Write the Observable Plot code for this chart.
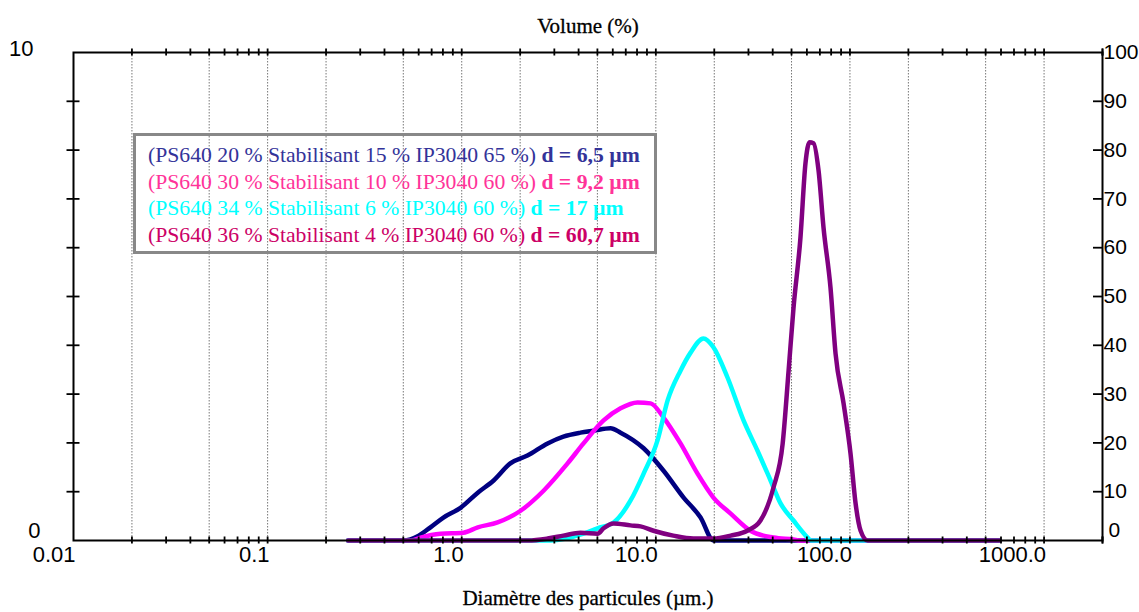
<!DOCTYPE html>
<html>
<head>
<meta charset="utf-8">
<script src="https://cdn.jsdelivr.net/npm/d3@7"></script>
<script src="https://cdn.jsdelivr.net/npm/@observablehq/plot@0.6"></script>
<style>
  body { margin: 0; background: #fff; }
  #wrap { position: relative; width: 1139px; height: 612px; }
  #legend {
    position: absolute; left: 133px; top: 133px; width: 524px; height: 121px;
    box-sizing: border-box; border: 3px solid #888; background: transparent;
    padding: 6px 0 0 12px; font-family: "Liberation Serif", "Times New Roman", serif;
    font-size: 21.7px; line-height: 26.6px; white-space: nowrap;
  }
  #legend b { font-weight: bold; }
</style>
</head>
<body>
<div id="wrap"></div>
<script>
// ---- Data (particle size in µm, volume in %) ----
const series = ["S1", "S2", "S3", "S4"];
const seriesColors = ["#000080", "#FF00FF", "#00FFFF", "#800080"];
const legendColors = ["#333399", "#FF3399", "#00FFFF", "#CC0066"];
const legendMain = [
  "(PS640 20 % Stabilisant 15 % IP3040 65 %) ",
  "(PS640 30 % Stabilisant 10 % IP3040 60 %) ",
  "(PS640 34 % Stabilisant 6 % IP3040 60 %) ",
  "(PS640 36 % Stabilisant 4 % IP3040 60 %) "
];
const legendBold = ["d = 6,5 µm", "d = 9,2 µm", "d = 17 µm", "d = 60,7 µm"];

const size1 = [0.26, 0.50, 0.60, 0.69, 0.805, 0.986, 1.21, 1.46, 1.78, 2.18, 2.77, 3.34, 4.09, 4.77, 5.84, 6.58, 8.65, 10.96, 13.9, 17.0, 19.8, 590];
const vol1  = [0, 0, 0.10, 0.27, 0.47, 0.67, 0.98, 1.23, 1.58, 1.74, 1.99, 2.13, 2.21, 2.25, 2.30, 2.21, 1.89, 1.43, 0.88, 0.47, 0, 0];

const size2 = [0.26, 0.55, 0.614, 0.778, 1.02, 1.21, 1.53, 2.01, 2.64, 3.51, 4.24, 5.38, 6.58, 8.05, 9.40, 10.96, 13.4, 16.4, 19.8, 24.3, 30.7, 40.4, 51.2, 55.6, 590];
const vol2  = [0, 0, 0.06, 0.14, 0.16, 0.27, 0.37, 0.61, 1.02, 1.58, 1.99, 2.46, 2.71, 2.83, 2.81, 2.52, 1.99, 1.37, 0.88, 0.55, 0.20, 0.06, 0.02, 0, 0];

const size3 = [0.26, 2.87, 4.24, 5.01, 6.06, 7.41, 8.65, 10.2, 11.5, 13.4, 15.1, 17.6, 19.8, 23.4, 28.3, 33.4, 39.0, 43.9, 51.2, 60.5, 62.7, 590];
const vol3  = [0, 0, 0.14, 0.25, 0.37, 0.82, 1.37, 2.05, 2.87, 3.48, 3.85, 4.14, 3.96, 3.34, 2.46, 1.84, 1.23, 0.76, 0.41, 0.06, 0, 0];

const size4 = [0.26, 2.2, 2.77, 3.34, 4.09, 5.01, 5.38, 6.06, 7.41, 8.34, 9.73, 12.3, 15.6, 19.8, 24.3, 29.6, 34.6, 40.4, 45.0, 48.3, 51.2, 55.6, 59.0, 61.9, 64.9, 68.9, 73.1, 79.4, 84.3, 92.7, 100.7, 106.9, 113.5, 123.3, 590];
const vol4  = [0, 0, 0.04, 0.10, 0.16, 0.14, 0.25, 0.35, 0.31, 0.29, 0.20, 0.10, 0.04, 0.04, 0.10, 0.20, 0.41, 1.09, 1.98, 3.48, 4.77, 6.21, 7.73, 8.16, 8.14, 7.58, 6.41, 5.18, 3.83, 2.81, 1.78, 0.76, 0.20, 0, 0];

const xTickValues = [0.01, 0.1, 1, 10, 100, 1000];
const xTickLabels = ["0.01", "0.1", "1.0", "10.0", "100.0", "1000.0"];
const gridValues = [0.02, 0.05, 0.1, 0.2, 0.5, 1, 2, 5, 10, 20, 50, 100, 200, 500, 1000];
const leftTicks = [1, 2, 3, 4, 5, 6, 7, 8, 9];
const rightLabels = [10, 20, 30, 40, 50, 60, 70, 80, 90, 100];

// ---- Build table ----
const sizes = [size1, size2, size3, size4];
const vols = [vol1, vol2, vol3, vol4];
const rows = [];
series.forEach((s, k) => sizes[k].forEach((d, i) => rows.push({series: s, size: d, vol: vols[k][i]})));

const minorTicks = [];
for (let e = -2; e <= 3; e++) for (let m = 1; m <= 9; m++) {
  const v = m * Math.pow(10, e);
  if (v > 0.01 && v <= 2000) minorTicks.push(+v.toPrecision(3));
}
minorTicks.push(2000);

const sans = "'Liberation Sans', Arial, sans-serif";
const serif = "'Liberation Serif', 'Times New Roman', serif";
const XMIN = 0.01, XMAX = 2000;

const chart = Plot.plot({
  width: 1139,
  height: 612,
  marginLeft: 73,
  marginRight: 37,
  marginTop: 52,
  marginBottom: 72,
  x: {type: "log", domain: [XMIN, XMAX], axis: null},
  y: {domain: [0, 10], axis: null},
  color: {domain: series, range: seriesColors},
  style: {background: "white"},
  marks: [
    Plot.ruleX(gridValues, {x: d => d, stroke: "#777", strokeWidth: 1, strokeDasharray: "1.5,1.5"}),
    Plot.line(rows, {x: "size", y: "vol", z: "series", stroke: "series", strokeWidth: 4.5, curve: "monotone-x", strokeLinejoin: "round", strokeLinecap: "round"}),
    Plot.frame({stroke: "black", strokeWidth: 2}),
    // bottom & top ticks (crossing the axis)
    Plot.ruleX(minorTicks, {x: d => d, y1: 0, y2: 0, insetTop: 3.5, insetBottom: 3.5, stroke: "black", strokeWidth: 1.8}),
    Plot.ruleX(minorTicks, {x: d => d, y1: 10, y2: 10, insetTop: 3.5, insetBottom: 3.5, stroke: "black", strokeWidth: 1.8}),
    // left ticks
    Plot.ruleY(leftTicks, {y: d => d, x1: XMIN, x2: XMIN, insetLeft: 6.5, insetRight: 6.5, stroke: "black", strokeWidth: 1.8}),
    // right ticks (inside)
    Plot.ruleY(leftTicks, {y: d => d, x1: XMAX, x2: XMAX, insetLeft: 0, insetRight: 9, stroke: "black", strokeWidth: 1.8}),
    // x tick labels
    Plot.text(xTickValues, {x: d => d, frameAnchor: "bottom", text: (d, i) => xTickLabels[i], textAnchor: "end", lineAnchor: "top", dx: 2, dy: 6, fontSize: 22, fontFamily: sans, fill: "black"}),
    // left labels
    Plot.text([10], {x: XMIN, y: d => d, text: d => String(d), textAnchor: "end", dx: -40, dy: -4, fontSize: 22, fontFamily: sans, fill: "black"}),
    Plot.text([0], {x: XMIN, y: d => d, text: d => String(d), textAnchor: "end", dx: -33, dy: -10, fontSize: 22, fontFamily: sans, fill: "black"}),
    // right labels (0–100)
    Plot.text(rightLabels, {x: XMAX, y: d => d / 10, text: d => String(d), textAnchor: "start", dx: 1, fontSize: 21, fontFamily: sans, fill: "black"}),
    Plot.text([0], {x: XMAX, y: d => d, text: d => String(d), textAnchor: "start", dx: 6, dy: -10, fontSize: 21, fontFamily: sans, fill: "black"}),
    // titles
    Plot.text(["Volume (%)"], {frameAnchor: "top", text: d => d, dy: -34, fontSize: 21, fontFamily: serif, fill: "black", stroke: "black", strokeWidth: 0.3}),
    Plot.text(["Diamètre des particules (µm.)"], {frameAnchor: "bottom", text: d => d, dy: 64, fontSize: 21, fontFamily: serif, fill: "black", stroke: "black", strokeWidth: 0.3})
  ]
});

const wrap = document.getElementById("wrap");
wrap.appendChild(chart);

const legend = document.createElement("div");
legend.id = "legend";
legendMain.forEach((t, i) => {
  const line = document.createElement("div");
  line.style.color = legendColors[i];
  line.appendChild(document.createTextNode(t));
  const b = document.createElement("b");
  b.textContent = legendBold[i];
  line.appendChild(b);
  legend.appendChild(line);
});
wrap.appendChild(legend);
</script>
</body>
</html>
